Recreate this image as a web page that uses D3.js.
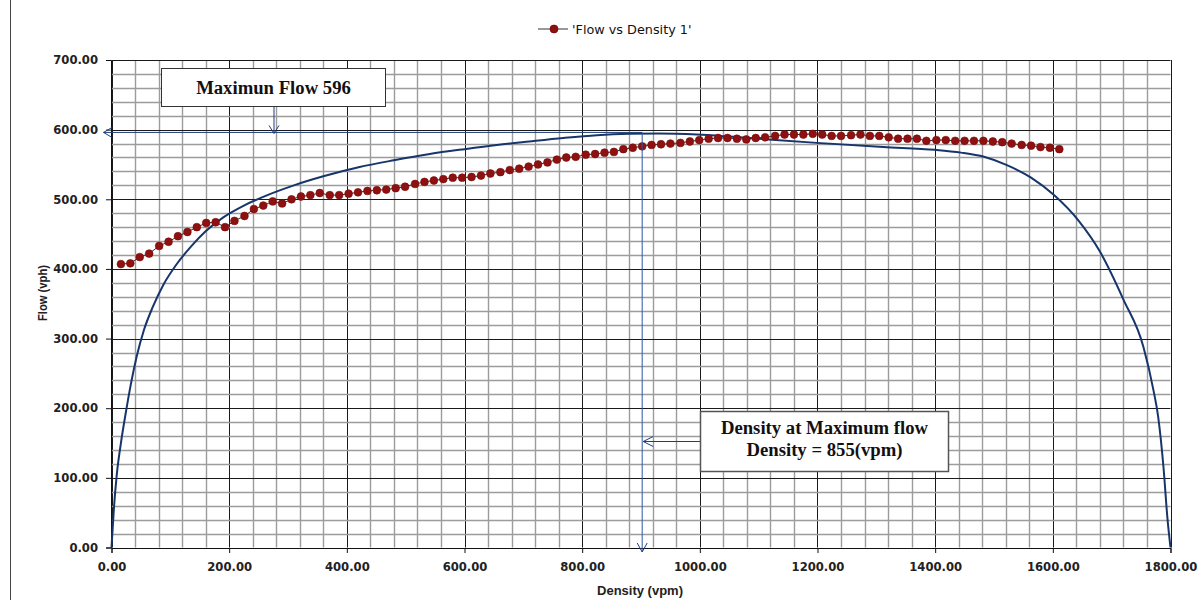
<!DOCTYPE html>
<html><head><meta charset="utf-8">
<script src="https://cdn.jsdelivr.net/npm/d3@7"></script>
<style>body{margin:0;background:#fff}svg{display:block}</style>
</head><body><svg id="chart" width="1200" height="600"></svg>
<script>
// ---- data ----
const seriesName = "'Flow vs Density 1'";
const obsDensity = [16,32,48,64,81,97,113,129,145,161,177,193,209,226,242,258,274,290,306,322,
 338,354,371,387,403,419,435,451,467,483,499,516,532,548,564,580,596,612,628,644,
 661,677,693,709,725,741,757,773,789,806,822,838,854,870,886,902,918,934,950,967,
 983,999,1015,1031,1047,1063,1079,1095,1111,1128,1144,1160,1176,1192,1208,1224,1240,1257,1273,1289,
 1305,1321,1337,1353,1369,1385,1402,1418,1434,1450,1466,1482,1498,1514,1530,1547,1563,1579,1595,1611];
const obsFlow = [407,408,417,422,433,439,447,453,460,466,467,460,469,476,486,491,497,494,500,504,
 506,509,506,506,508,510,512,513,514,516,518,522,525,527,529,531,531,532,534,537,
 539,542,544,547,550,553,557,560,561,564,565,567,568,572,574,576,578,579,580,581,
 583,585,587,588,588,587,586,588,589,591,593,593,593,594,593,591,591,592,593,591,
 591,589,587,587,587,584,585,585,584,584,584,584,583,582,580,578,577,575,574,572];
const modelDensity = [0,4,9,16,24,33,43,55,70,88,110,135,160,190,225,265,310,360,420,480,
 541,600,655,710,768,825,881,930,995,1051,1100,1199,1312,1400,1444,1483,1522,1563,1602,1644,
 1680,1720,1754,1771,1779,1788,1795,1800];
const modelFlow = [0,55,105,150,192,235,275,312,345,377,406,432,454,474,491,506,520,533,546,556,
 565,572,578,583,588,592,594,594.5,593,590,587,581,575,571,567,561,549,531,506,469,
 425,356,288,226,188,116,40,0];
const xTickValues = [0,200,400,600,800,1000,1200,1400,1600,1800];
const yTickValues = [0,100,200,300,400,500,600,700];
const xTitle = "Density (vpm)";
const yTitle = "Flow (vph)";
const maxFlow = 596;
const maxFlowLabel = "Maximun Flow 596";
const densityLineAt = 902;
const densityLabel = ["Density at Maximum flow", "Density = 855(vpm)"];

// ---- drawing ----
const svg = d3.select("#chart");
const x = d3.scaleLinear().domain([0,1800]).range([111.5,1170.5]);
const y = d3.scaleLinear().domain([0,700]).range([547.5,60]);
const cx = v => Math.round(x(v)) + 0.5;
const cy = v => Math.round(y(v)) + 0.5;

svg.append("line").attr("x1",10.5).attr("x2",10.5).attr("y1",0).attr("y2",600)
  .attr("stroke","#444").attr("stroke-width",1);

const g = svg.append("g");
d3.range(0,1801,40).forEach(v=>{
  const major = v % 200 === 0;
  g.append("line").attr("x1",cx(v)).attr("x2",cx(v)).attr("y1",y(700)).attr("y2",y(0))
   .attr("stroke", major ? "#1a1a1a" : "#9c9c9c").attr("stroke-width", major?1:1.4);
});
d3.range(0,701,20).forEach(v=>{
  const major = v % 100 === 0;
  g.append("line").attr("y1",cy(v)).attr("y2",cy(v)).attr("x1",x(0)).attr("x2",x(1800))
   .attr("stroke", major ? "#1a1a1a" : "#9c9c9c").attr("stroke-width", major?1:1.4);
});

const xAxis = d3.axisBottom(x).tickValues(xTickValues).tickSize(5).tickPadding(10)
  .tickFormat(d3.format(".2f"));
const yAxis = d3.axisLeft(y).tickValues(yTickValues).tickSize(5).tickPadding(8)
  .tickFormat(d3.format(".2f"));
const gx = svg.append("g").attr("transform","translate(0,548)").call(xAxis);
const gy = svg.append("g").attr("transform","translate(111,0)").call(yAxis);
[gx,gy].forEach(a=>{
  a.select(".domain").attr("stroke","#111");
  a.selectAll(".tick line").attr("stroke","#111");
  a.selectAll("text").attr("font-family","DejaVu Sans").attr("font-weight","bold")
    .attr("font-size","11.6px").attr("fill","#222");
});

svg.append("text").attr("x",640).attr("y",595).attr("text-anchor","middle")
  .attr("font-family","Liberation Sans").attr("font-weight","bold").attr("font-size","13px")
  .attr("fill","#222").text(xTitle);
svg.append("text").attr("transform","translate(47,293) rotate(-90)").attr("text-anchor","middle")
  .attr("font-family","Liberation Sans").attr("font-weight","bold").attr("font-size","12px")
  .attr("textLength",56).attr("lengthAdjust","spacingAndGlyphs")
  .attr("fill","#222").text(yTitle);

const line = d3.line().x(d=>x(d[0])).y(d=>y(d[1])).curve(d3.curveMonotoneX);
svg.append("path").datum(modelDensity.map((d,i)=>[d,modelFlow[i]]))
  .attr("d",line).attr("fill","none").attr("stroke","#17356b").attr("stroke-width",2);

const obs = obsDensity.map((d,i)=>[d,obsFlow[i]]);
svg.append("path").datum(obs).attr("d",d3.line().x(d=>x(d[0])).y(d=>y(d[1])))
  .attr("fill","none").attr("stroke","#333").attr("stroke-width",1);
svg.append("g").selectAll("circle").data(obs).join("circle")
  .attr("cx",d=>x(d[0])).attr("cy",d=>y(d[1])).attr("r",3.9)
  .attr("fill","#8e1010").attr("stroke","#7a0b0b").attr("stroke-width",0.6);

const navy = "#1f3f7a";
svg.append("line").attr("x1",103.5).attr("x2",x(densityLineAt)).attr("y1",y(maxFlow)).attr("y2",y(maxFlow))
  .attr("stroke",navy).attr("stroke-width",1);
svg.append("path").attr("d",`M${112},${y(maxFlow)-5} L${103.5},${y(maxFlow)} L${112},${y(maxFlow)+5}`)
  .attr("fill","none").attr("stroke",navy).attr("stroke-width",1);
const vx = x(densityLineAt);
svg.append("line").attr("x1",vx).attr("x2",vx).attr("y1",y(maxFlow)).attr("y2",552)
  .attr("stroke","#2b57a0").attr("stroke-width",1);
svg.append("path").attr("d",`M${vx-5},543 L${vx},552 L${vx+5},543`)
  .attr("fill","none").attr("stroke",navy).attr("stroke-width",1);

const b1 = {x:161.5,y:68.5,w:224,h:38};
svg.append("line").attr("x1",274).attr("x2",274).attr("y1",b1.y+b1.h).attr("y2",y(maxFlow)+1)
  .attr("stroke",navy).attr("stroke-width",1);
svg.append("path").attr("d",`M269,${y(maxFlow)-7} L274,${y(maxFlow)+1} L279,${y(maxFlow)-7}`)
  .attr("fill","none").attr("stroke",navy).attr("stroke-width",1);
svg.append("rect").attr("x",b1.x).attr("y",b1.y).attr("width",b1.w).attr("height",b1.h)
  .attr("fill","#fff").attr("stroke","#333").attr("stroke-width",1);
svg.append("text").attr("x",b1.x+b1.w/2).attr("y",b1.y+25).attr("text-anchor","middle")
  .attr("font-family","Liberation Serif").attr("font-weight","bold").attr("font-size","18.7px")
  .attr("fill","#111").text(maxFlowLabel);

const b2 = {x:700.5,y:411.5,w:248,h:60};
svg.append("line").attr("x1",b2.x).attr("x2",vx+1).attr("y1",441.5).attr("y2",441.5)
  .attr("stroke",navy).attr("stroke-width",1);
svg.append("path").attr("d",`M${vx+11},436.5 L${vx+1},441.5 L${vx+11},446.5`)
  .attr("fill","none").attr("stroke",navy).attr("stroke-width",1);
svg.append("rect").attr("x",b2.x).attr("y",b2.y).attr("width",b2.w).attr("height",b2.h)
  .attr("fill","#fff").attr("stroke","#555").attr("stroke-width",1.5);
densityLabel.forEach((t,i)=>{
  svg.append("text").attr("x",b2.x+b2.w/2).attr("y",b2.y+22+i*22).attr("text-anchor","middle")
    .attr("font-family","Liberation Serif").attr("font-weight","bold").attr("font-size","18.7px")
    .attr("fill","#111").text(t);
});

svg.append("line").attr("x1",538).attr("x2",568).attr("y1",29).attr("y2",29)
  .attr("stroke","#333").attr("stroke-width",1);
svg.append("circle").attr("cx",554).attr("cy",29).attr("r",3.9).attr("fill","#8e1010").attr("stroke","#7a0b0b");
svg.append("text").attr("x",572).attr("y",33.5).attr("font-family","DejaVu Sans").attr("font-size","12.8px")
  .attr("fill","#111").text(seriesName);
</script></body></html>
